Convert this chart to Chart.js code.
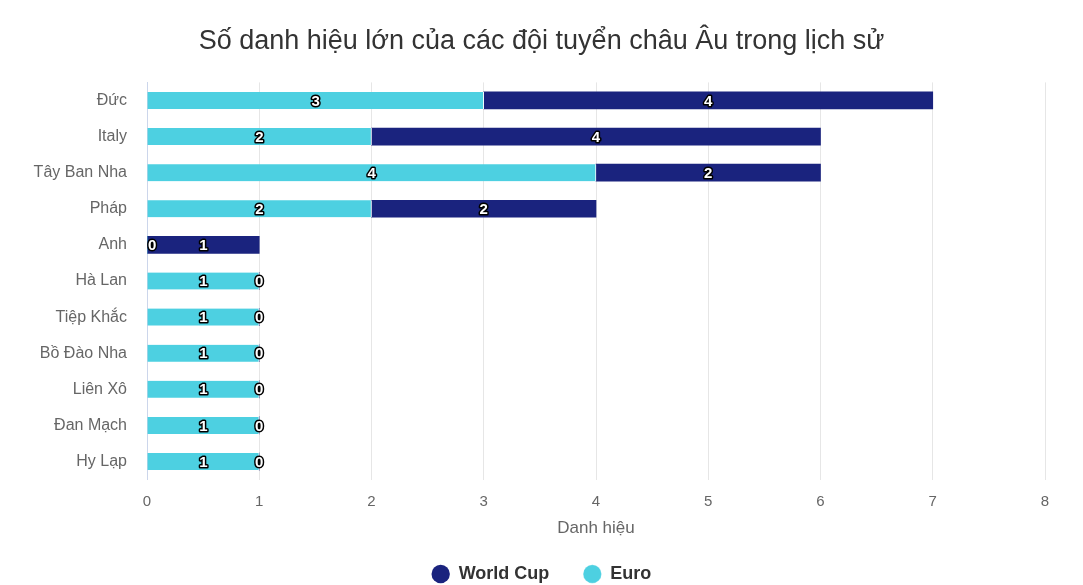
<!DOCTYPE html>
<html>
<head>
<meta charset="utf-8">
<script src="https://cdn.jsdelivr.net/npm/chart.js@4.4.0/dist/chart.umd.min.js"></script>
<style>
    html, body { margin: 0; padding: 0; background: #fff; }
    #wrap { width: 1083px; height: 585px; }
</style>
</head>
<body>
<div id="wrap"><canvas id="titlesChart" width="1083" height="585"></canvas></div>
<script>
    // Categories and series
    const teams = ['Đức', 'Italy', 'Tây Ban Nha', 'Pháp', 'Anh', 'Hà Lan', 'Tiệp Khắc', 'Bồ Đào Nha', 'Liên Xô', 'Đan Mạch', 'Hy Lạp'];
    const euroTitles = [3, 2, 4, 2, 0, 1, 1, 1, 1, 1, 1];
    const worldCupTitles = [4, 4, 2, 2, 1, 0, 0, 0, 0, 0, 0];

    const fontFamily = '"Liberation Sans", Arial, sans-serif';

    // Draw value labels centred on each bar segment (white text, dark outline)
    const barLabels = {
        id: 'barLabels',
        afterDatasetsDraw(chart) {
            const ctx = chart.ctx;
            const area = chart.chartArea;
            ctx.save();
            ctx.font = 'bold 15px ' + fontFamily;
            ctx.textAlign = 'center';
            ctx.textBaseline = 'middle';
            ctx.lineJoin = 'round';
            chart.data.datasets.forEach(function(ds, di) {
                const meta = chart.getDatasetMeta(di);
                if (meta.hidden) return;
                meta.data.forEach(function(bar, i) {
                    const text = String(ds.data[i]);
                    const w = ctx.measureText(text).width;
                    let x = (bar.x + bar.base) / 2;
                    x = Math.max(area.left + w / 2 + 1, x);
                    const y = bar.y + 1;
                    ctx.lineWidth = 3;
                    ctx.strokeStyle = '#000';
                    ctx.strokeText(text, x, y);
                    ctx.fillStyle = '#fff';
                    ctx.fillText(text, x, y);
                });
            });
            ctx.restore();
        }
    };

    // Legend padding sets both item gap and vertical space; trim some space off the top
    const legendTrim = {
        id: 'legendTrim',
        beforeLayout(chart) {
            const lg = chart.legend;
            if (!lg || lg._trimmed) return;
            const fit = lg.fit.bind(lg);
            lg.fit = function() {
                fit();
                this.height -= 8;
            };
            lg._trimmed = true;
        }
    };

    const ctx = document.getElementById('titlesChart').getContext('2d');
    new Chart(ctx, {
        type: 'bar',
        data: {
            labels: teams,
            datasets: [{
                label: 'Euro',
                data: euroTitles,
                backgroundColor: '#4dd0e1',
                borderColor: '#ffffff',
                borderWidth: { right: 1 },
                borderSkipped: false,
                barThickness: 17
            }, {
                label: 'World Cup',
                data: worldCupTitles,
                backgroundColor: '#1a237e',
                borderColor: '#ffffff',
                borderWidth: 0,
                barThickness: 17
            }]
        },
        options: {
            indexAxis: 'y',
            responsive: false,
            animation: false,
            layout: {
                padding: { left: 0, right: 0, top: 0, bottom: 0 }
            },
            scales: {
                x: {
                    stacked: true,
                    min: 0,
                    max: 8,
                    ticks: {
                        stepSize: 1,
                        color: '#666666',
                        font: { family: fontFamily, size: 15 },
                        padding: 13
                    },
                    grid: {
                        color: '#e6e6e6',
                        drawTicks: false
                    },
                    border: { display: false },
                    title: {
                        display: true,
                        text: 'Danh hiệu',
                        color: '#666666',
                        font: { family: fontFamily, size: 17 },
                        padding: { top: -5, bottom: -8 }
                    }
                },
                y: {
                    stacked: true,
                    ticks: {
                        color: '#666666',
                        font: { family: fontFamily, size: 16 },
                        padding: 20
                    },
                    grid: { display: false, drawTicks: false },
                    border: { display: true, color: '#ccd6eb', width: 1 },
                    afterFit: function(scale) { scale.width = 147; }
                },
                // empty spacer on the right so title and legend stay centred on the page
                y2: {
                    type: 'category',
                    position: 'right',
                    ticks: { display: false },
                    grid: { display: false, drawTicks: false },
                    border: { display: false },
                    afterFit: function(scale) { scale.width = 38; }
                }
            },
            plugins: {
                title: {
                    display: true,
                    text: 'Số danh hiệu lớn của các đội tuyển châu Âu trong lịch sử',
                    color: '#333333',
                    font: { family: fontFamily, size: 27, weight: 'normal' },
                    padding: { top: 25, bottom: 25 }
                },
                legend: {
                    position: 'bottom',
                    reverse: true,
                    labels: {
                        usePointStyle: true,
                        pointStyle: 'circle',
                        boxWidth: 18,
                        boxHeight: 13,
                        padding: 34,
                        color: '#333333',
                        font: { family: fontFamily, size: 18, weight: 'bold' }
                    }
                },
                tooltip: { enabled: false }
            }
        },
        plugins: [barLabels, legendTrim]
    });
</script>
</body>
</html>
